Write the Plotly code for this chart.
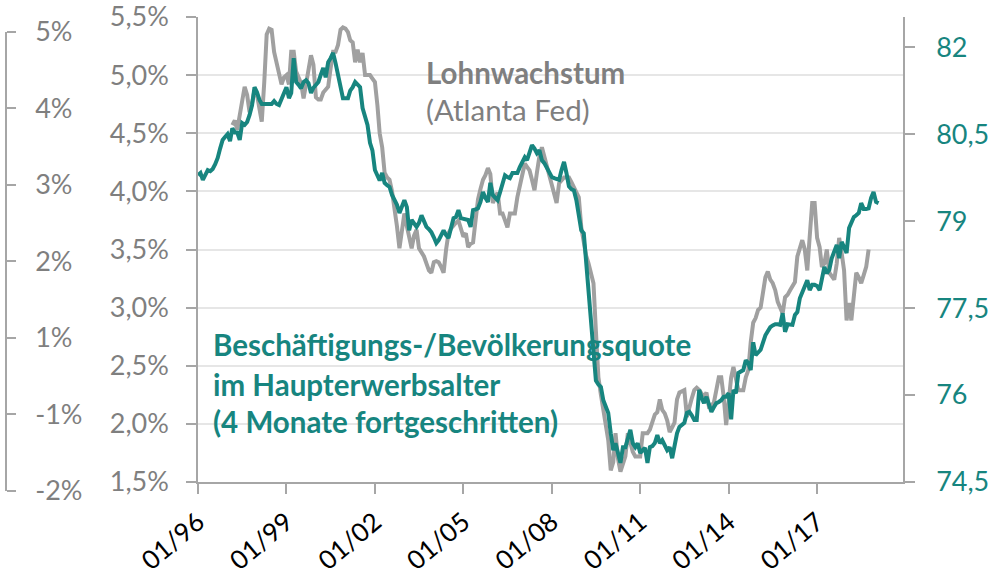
import pandas as pd
import plotly.graph_objects as go

# ---------------- data ----------------
epop_start = "1996-01-01"   # prime-age employment/population ratio, shifted 4 months
wage_start = "1997-03-01"   # Atlanta Fed wage growth tracker

epop = [
    79.79, 79.83, 79.71, 79.80, 79.88, 79.86, 79.90, 79.98, 80.09, 80.25,
    80.40, 80.45, 80.50, 80.38, 80.60, 80.53, 80.53, 80.40, 80.69, 80.66,
    80.71, 80.83, 81.00, 81.31, 81.22, 81.09, 81.02, 81.02, 81.02, 81.02,
    81.02, 81.07, 81.02, 81.00, 81.12, 81.22, 81.31, 81.12, 81.21, 81.81,
    81.40, 81.35, 81.29, 81.40, 81.43, 81.38, 81.21, 81.30, 81.36, 81.40,
    81.52, 81.64, 81.48, 81.74, 81.81, 81.90, 81.72, 81.52, 81.34, 81.12,
    81.12, 81.12, 81.25, 81.31, 81.40, 81.36, 81.31, 80.95, 80.80, 80.66,
    80.35, 80.22, 79.88, 79.76, 79.70, 79.83, 79.66, 79.62, 79.59, 79.45,
    79.36, 79.28, 79.14, 79.25, 79.36, 79.24, 78.84, 79.02, 78.95, 78.90,
    78.97, 79.10, 79.00, 78.90, 78.86, 78.81, 78.72, 78.62, 78.67, 78.76,
    78.84, 78.76, 78.71, 78.88, 79.05, 79.07, 79.19, 79.05, 79.04, 79.03,
    79.02, 78.90, 79.19, 79.20, 79.22, 79.33, 79.50, 79.40, 79.33, 79.66,
    79.45, 79.40, 79.36, 79.50, 79.66, 79.79, 79.76, 79.74, 79.83, 79.83,
    79.83, 79.93, 80.00, 80.10, 80.05, 80.18, 80.31, 80.25, 80.17, 80.22,
    80.05, 80.00, 79.93, 79.85, 79.76, 79.74, 79.72, 79.71, 79.88, 80.02,
    79.83, 79.60, 79.55, 79.53, 79.36, 79.10, 78.84, 78.79, 78.33, 77.95,
    77.40, 76.75, 76.25, 76.18, 76.14, 75.91, 75.80, 75.69, 75.34, 75.05,
    75.17, 75.00, 74.83, 75.10, 75.10, 75.25, 75.40, 75.17, 75.10, 75.17,
    75.00, 75.05, 75.09, 74.83, 75.10, 75.12, 75.17, 75.31, 75.17, 75.22,
    75.12, 75.05, 75.10, 74.91, 75.12, 75.34, 75.45, 75.48, 75.52, 75.69,
    75.71, 75.65, 75.57, 75.57, 76.09, 75.95, 75.86, 75.97, 75.85, 75.71,
    75.79, 75.86, 75.88, 75.91, 75.97, 75.97, 76.03, 75.58, 76.09, 76.03,
    76.38, 76.40, 76.43, 76.60, 76.55, 76.43, 76.91, 76.69, 76.74, 76.78,
    76.90, 77.03, 77.10, 77.17, 77.20, 77.22, 77.22, 77.21, 77.41, 77.09,
    77.22, 77.22, 77.21, 77.38, 77.43, 77.67, 77.78, 77.88, 77.98, 77.81,
    77.90, 77.90, 77.88, 77.81, 78.03, 78.21, 78.10, 78.16, 78.36, 78.47,
    78.59, 78.36, 78.64, 78.55, 78.45, 78.88, 78.97, 79.07, 79.10, 79.14,
    79.31, 79.21, 79.21, 79.22, 79.40, 79.50, 79.33, 79.31,
]

wage = [
    4.57, 4.61, 4.53, 4.65, 4.80, 4.90,
    4.83, 4.68, 4.76, 4.87, 4.83, 4.72, 4.60, 4.94, 5.35, 5.40,
    5.39, 5.20, 5.10, 5.03, 4.92, 4.98, 5.00, 4.92, 5.20, 5.20,
    5.03, 4.98, 4.93, 4.80, 4.94, 5.05, 5.17, 5.09, 4.81, 4.79,
    4.79, 4.85, 4.88, 4.90, 5.06, 5.20, 5.20, 5.26, 5.39, 5.41,
    5.40, 5.37, 5.30, 5.28, 5.11, 5.22, 5.11, 5.19, 5.00, 5.00,
    5.00, 4.97, 4.94, 4.74, 4.50, 4.38, 4.16, 4.12, 4.10, 4.00,
    3.87, 3.70, 3.51, 3.65, 3.81, 3.70, 3.62, 3.51, 3.62, 3.67,
    3.51, 3.48, 3.44, 3.38, 3.32, 3.30, 3.39, 3.40, 3.39, 3.35,
    3.30, 3.50, 3.64, 3.68, 3.71, 3.73, 3.75, 3.68, 3.61, 3.64,
    3.52, 3.55, 3.56, 3.75, 3.93, 4.02, 4.10, 4.14, 4.20, 4.15,
    3.90, 3.95, 3.99, 3.81, 3.81, 3.75, 3.69, 3.81, 3.81, 3.81,
    3.95, 4.05, 4.12, 4.24, 4.21, 4.18, 4.10, 4.01, 4.16, 4.30,
    4.38, 4.30, 4.21, 4.12, 4.04, 3.98, 3.90, 4.07, 4.10, 4.12,
    4.12, 4.12, 4.08, 4.04, 4.00, 3.95, 3.69, 3.55, 3.45, 3.38,
    3.30, 3.21, 2.80, 2.40, 2.25, 2.12, 2.00, 1.86, 1.60, 1.67,
    1.92, 1.70, 1.59, 1.65, 1.72, 1.92, 1.84, 1.76, 1.72, 1.72,
    1.72, 1.92, 1.92, 1.92, 1.95, 2.01, 2.08, 2.10, 2.21, 2.12,
    2.09, 2.03, 1.93, 1.97, 2.01, 2.21, 2.27, 2.28, 2.29, 2.06,
    2.15, 2.22, 2.29, 2.31, 2.29, 2.26, 2.23, 2.27, 2.15, 2.16,
    2.18, 2.29, 2.40, 2.40, 2.23, 1.99, 2.23, 2.40, 2.49, 2.40,
    2.29, 2.29, 2.29, 2.40, 2.46, 2.70, 2.87, 2.91, 2.98, 3.00,
    3.15, 3.26, 3.31, 3.24, 3.21, 3.15, 3.05, 3.00, 2.95, 3.09,
    3.11, 3.15, 3.18, 3.22, 3.44, 3.52, 3.58, 3.50, 3.32, 3.61,
    3.90, 3.90, 3.60, 3.52, 3.35, 3.38, 3.50, 3.30, 3.27, 3.24,
    3.38, 3.60, 3.47, 3.32, 2.89, 3.04, 2.89, 3.09, 3.30, 3.26,
    3.21, 3.28, 3.35, 3.50,
]

x_tick_dates = ["1996-01-01", "1999-01-01", "2002-01-01", "2005-01-01",
                "2008-01-01", "2011-01-01", "2014-01-01", "2017-01-01"]
right_tick_vals = [74.5, 76, 77.5, 79, 80.5, 82]
stray_tick_labels = ["5%", "4%", "3%", "2%", "1%", "-1%", "-2%"]
stray_tick_pos = [6, 5, 4, 3, 2, 1, 0]

label_wage = ["<b>Lohnwachstum</b>", "(Atlanta Fed)"]
label_epop = ["<b>Beschäftigungs-/Bevölkerungsquote</b>",
              "<b>im Haupterwerbsalter</b>",
              "<b>(4 Monate fortgeschritten)</b>"]

# ---------------- styles ----------------
TEAL = "#17857F"
GRAY_LINE = "#A0A0A0"
GRAY_TEXT = "#7F7F7F"
AXIS = "#A6A6A6"
FONT = "Lato"

epop_dates = pd.date_range(epop_start, periods=len(epop), freq="MS")
wage_dates = pd.date_range(wage_start, periods=len(wage), freq="MS")

fig = go.Figure()
# carrier for the stray far-left axis
fig.add_trace(go.Scatter(x=[], y=[], xaxis="x", yaxis="y3", showlegend=False,
                         hoverinfo="skip"))
fig.add_trace(go.Scatter(x=wage_dates, y=wage, mode="lines", yaxis="y",
                         line=dict(color=GRAY_LINE, width=4), showlegend=False))
fig.add_trace(go.Scatter(x=epop_dates, y=epop, mode="lines", yaxis="y2",
                         line=dict(color=TEAL, width=4), showlegend=False))

fig.update_layout(
    width=998, height=581,
    margin=dict(l=6, r=95, t=17, b=90, autoexpand=False),
    paper_bgcolor="white", plot_bgcolor="rgba(0,0,0,0)",
    separators=",.",
    showlegend=False,
    font=dict(family=FONT, size=25, color=GRAY_TEXT),
    xaxis=dict(
        type="date", domain=[192 / 897, 1], anchor="y",
        range=["1996-01-01", "2019-12-01"],
        tickvals=x_tick_dates, tickformat="%m/%y", tickangle=-40,
        ticks="outside", ticklen=10, tickwidth=1.5, tickcolor=AXIS,
        showline=True, linecolor=AXIS, linewidth=1.5,
        showgrid=False, zeroline=False,
        tickfont=dict(family=FONT, size=26, color="black"),
        ticklabelstandoff=3,
    ),
    yaxis=dict(
        domain=[0.019, 1], anchor="x", side="left",
        range=[1.5, 5.5], tick0=1.5, dtick=0.5,
        tickformat=".1f", ticksuffix="%",
        ticks="outside", ticklen=10, tickwidth=1.5, tickcolor=AXIS,
        showline=True, linecolor=AXIS, linewidth=1.5,
        showgrid=True, gridcolor="#E6E6E6", gridwidth=1.5, zeroline=False,
        tickfont=dict(family=FONT, size=27, color=GRAY_TEXT),
        ticklabelstandoff=12, ticklabeloverflow="allow",
    ),
    yaxis2=dict(
        overlaying="y", anchor="x", side="right",
        range=[74.5, 82.52], tickvals=right_tick_vals, tickformat="~g",
        ticks="outside", ticklen=10, tickwidth=1.5, tickcolor=AXIS,
        showline=True, linecolor=AXIS, linewidth=1.5,
        showgrid=False, zeroline=False,
        tickfont=dict(family=FONT, size=27, color=TEAL),
        ticklabelstandoff=16, ticklabeloverflow="allow",
    ),
    yaxis3=dict(
        domain=[0, 0.9684], anchor="free", position=0, side="right",
        range=[0, 6], tickvals=stray_tick_pos, ticktext=stray_tick_labels,
        ticks="outside", ticklen=9, tickwidth=1.5, tickcolor=AXIS,
        showline=True, linecolor=AXIS, linewidth=1.5,
        showgrid=False, zeroline=False,
        tickfont=dict(family=FONT, size=27, color=GRAY_TEXT),
        ticklabelstandoff=14, ticklabeloverflow="allow",
    ),
)

ann_common = dict(xref="paper", yref="paper", showarrow=False,
                  xanchor="left", yanchor="middle")
wage_y = [0.882, 0.804]
for txt, yy in zip(label_wage, wage_y):
    fig.add_annotation(text=txt, x=0.466, y=yy,
                       font=dict(family=FONT, size=29.5, color=GRAY_TEXT),
                       **ann_common)
epop_y = [0.310, 0.2257, 0.1456]
for txt, yy in zip(label_epop, epop_y):
    fig.add_annotation(text=txt, x=0.2285, y=yy,
                       font=dict(family=FONT, size=29.5, color=TEAL),
                       **ann_common)

# remove the browser's default 8px page margin so the figure sits at (0, 0)
fig.write_html("out.html",
               config={"displayModeBar": False},
               post_script="document.body.style.margin='0';"
                           "document.body.style.padding='0';")
